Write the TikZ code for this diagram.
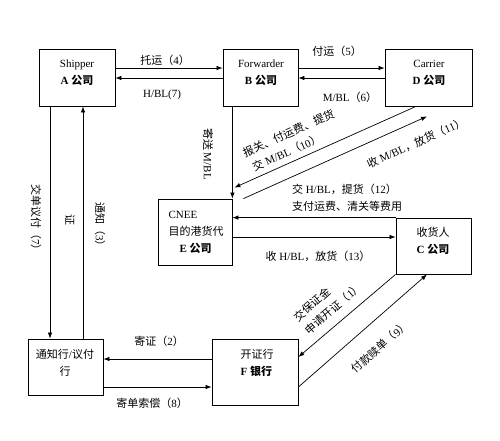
\documentclass[tikz,border=0pt]{standalone}
\usepackage{fontspec}
\setmainfont{Liberation Serif}
\newfontfamily\cjk{Noto Sans CJK SC}
\usetikzlibrary{arrows.meta}

% Chinese characters go to the CJK font, the rest stays in Liberation Serif
\XeTeXinterchartokenstate=1
\newcount\cjkcnt
\newcommand\cjkrange[2]{\cjkcnt=#1\relax
  \loop\XeTeXcharclass\cjkcnt=7\relax\ifnum\cjkcnt<#2\relax\advance\cjkcnt by 1\relax\repeat}
\cjkrange{"3000}{"303F}
\cjkrange{"4E00}{"9FFF}
\cjkrange{"FF00}{"FFEF}
\XeTeXinterchartoks 0 7 = {\begingroup\cjk}
\XeTeXinterchartoks 4095 7 = {\begingroup\cjk}
\XeTeXinterchartoks 7 0 = {\endgroup}
\XeTeXinterchartoks 7 4095 = {\endgroup}

\begin{document}
\begin{tikzpicture}[x=1pt,y=-1pt,
  font=\fontsize{11}{17}\selectfont,
  firm/.style={draw, line width=0.8pt, inner sep=0pt},
  flow/.style={line width=0.7pt, -{Latex[length=6pt,width=4.5pt]}}]
\useasboundingbox (0,0) rectangle (500,440);

% companies and banks
\node[firm, minimum width=76pt, minimum height=57pt] (A) at (77,77.5) {};
\node[firm, minimum width=75pt, minimum height=57pt] (B) at (260.5,77.5) {};
\node[firm, minimum width=87pt, minimum height=57pt] (D) at (428.5,77.5) {};
\node[firm, minimum width=74pt, minimum height=66pt] (E) at (195,232) {};
\node[firm, minimum width=75pt, minimum height=56pt] (C) at (433.5,246) {};
\node[firm, minimum width=75pt, minimum height=56pt] (N) at (65.5,367) {};
\node[firm, minimum width=86pt, minimum height=66pt] (F) at (255,372) {};

\node[align=center] (Atxt) at (77,73) {Shipper\\\textbf{A 公司}};
\node[align=center] (Btxt) at (261,73) {Forwarder\\\textbf{B 公司}};
\node[align=center] (Dtxt) at (429,73) {Carrier\\\textbf{D 公司}};
\node[align=left, anchor=west] (Etxt) at (165,232) {CNEE\\目的港货代\\\hspace{11pt}\textbf{E 公司}};
\node[align=center] (Ctxt) at (433,241) {收货人\\\textbf{C 公司}};
\node[align=center] (Ntxt) at (65,363) {通知行/议付\\行};
\node[align=left, anchor=west] (Ftxt) at (237,363) {开证行\\\textbf{F 银行}};

% connectors
\draw[flow] (A.east |- 0,68) -- (B.west |- 0,68);
\draw[flow] (B.west |- 0,78) -- (A.east |- 0,78);
\draw[flow] (B.east |- 0,68) -- (D.west |- 0,68);
\draw[flow] (D.west |- 0,78) -- (B.east |- 0,78);
\draw[flow] (A.south -| 50,0) -- (N.north -| 50,0);
\draw[flow] (N.north -| 83,0) -- (A.south -| 83,0);
\draw[flow] (B.south -| E.east) -- (E.north east);
\draw[flow] ([xshift=-12.5pt]D.south) -- ([xshift=2pt,yshift=11pt]E.north east);
\draw[flow] ([xshift=11pt]E.north east) -- ([xshift=-1.5pt,yshift=-10pt]D.south);
\draw[flow] (C.north west) -- (E.east |- C.north west);
\draw[flow] (E.east |- 0,237) -- (C.west |- 0,237);
\draw[flow] (C.south west) -- ([yshift=15pt]F.east);
\draw[flow] ([yshift=-15pt]F.east) -- ([xshift=-6.5pt]C.south);
\draw[flow] (F.west |- 0,359) -- (N.east |- 0,359);
\draw[flow] (N.east |- 0,387) -- (F.west |- 0,387);

% labels
\node (l4) at (165,60) {托运（4）};
\node (l7a) at (162,95) {H/BL(7)};
\node (l5) at (337,51) {付运（5）};
\node (l6) at (350,97) {M/BL（6）};
\node[rotate=-90] (lmbl) at (208,154) {寄送 M/BL};
\node[rotate=24, align=left] (l10) at (292,141) {报关、付运费、提货\\\hspace{3pt}交 M/BL（10）};
\node[rotate=24] (l11) at (416,143) {收 M/BL，放货（11）};
\node[align=left] (l12) at (347,198) {交 H/BL，提货（12）\\支付运费、清关等费用};
\node (l13) at (318,256) {收 H/BL，放货（13）};
\node[rotate=41, align=left] (l1) at (328,302) {交保证金\\申请开证（1）};
\node[rotate=41] (l9) at (380,347) {付款赎单（9）};
\node (l2) at (159,341) {寄证（2）};
\node (l8) at (152,403) {寄单索偿（8）};
\node[rotate=-90] (l7b) at (36,220) {交单议付（7）};
\node[rotate=-90] (lz) at (70,220) {证};
\node[rotate=-90] (l3) at (100,227) {通知（3）};
\end{tikzpicture}
\end{document}
